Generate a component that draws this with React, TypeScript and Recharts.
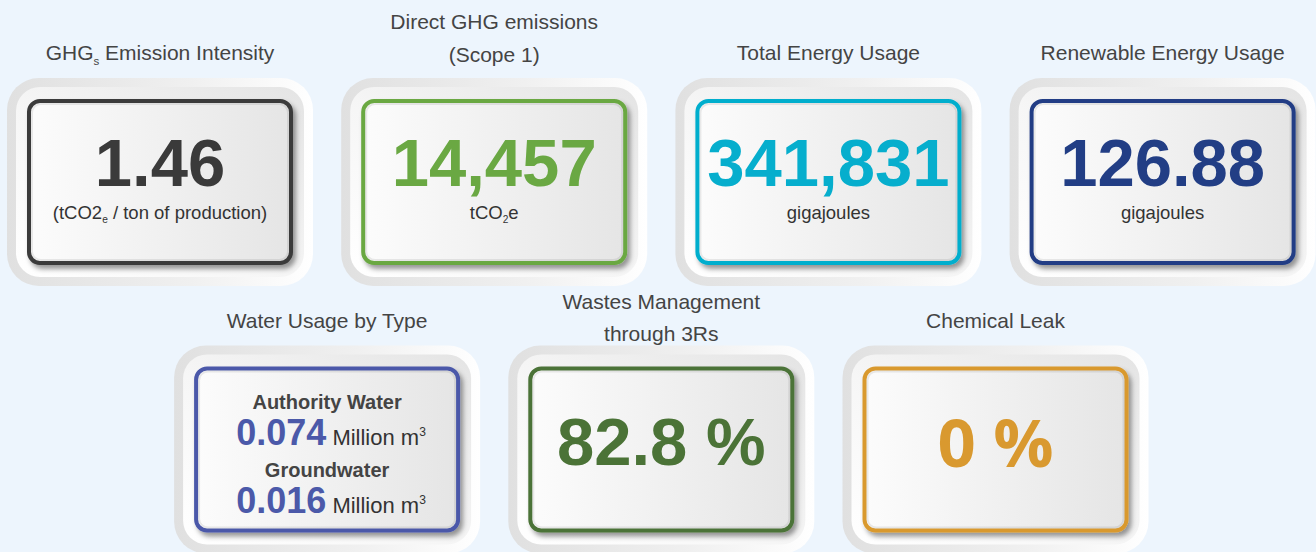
import React from 'react';
import { ScatterChart, Scatter, XAxis, YAxis } from 'recharts';

// card contents
const cardTitles = [
  'GHG_s Emission Intensity',
  'Direct GHG emissions\n(Scope 1)',
  'Total Energy Usage',
  'Renewable Energy Usage',
  'Water Usage by Type',
  'Wastes Management\nthrough 3Rs',
  'Chemical Leak',
];
const cardValues: (number | null)[] = [1.46, 14457, 341831, 126.88, null, 82.8, 0];
const cardDecimals = [2, 0, 0, 2, 0, 1, 0];
const cardUnits = ['(tCO2_e / ton of production)', 'tCO_2e', 'gigajoules', 'gigajoules', 'Million m^3', '%', '%'];

const waterTypes = ['Authority Water', 'Groundwater'];
const waterValues = [0.074, 0.016];

const cardColors = ['#3a3a3a', '#6aa843', '#06aecd', '#223e85', '#4b59a9', '#4b7337', '#d9992f'];

const FONT = "'Liberation Sans', Arial, Helvetica, sans-serif";
const W = 1316;
const H = 552;

// 4 cards on the first row, 3 on the second shifted by half a slot
const cards = cardTitles.map((title, i) => ({
  col: i < 4 ? i : i - 3.5,
  row: i < 4 ? 0 : 1,
  idx: i,
}));

// "_x" -> subscript, "^x" -> superscript
function rich(s: string, size: number) {
  const parts = s.split(/([_^][^ ])/);
  let shift = 0;
  const out: React.ReactNode[] = [];
  parts.forEach((p, i) => {
    if (!p) return;
    let target = 0;
    let text = p;
    let fs = size;
    if ((p[0] === '_' || p[0] === '^') && p.length === 2) {
      target = p[0] === '_' ? size * 0.22 : -size * 0.38;
      text = p[1];
      fs = size * 0.55;
    }
    out.push(
      <tspan key={i} dy={target - shift} fontSize={fs}>
        {text}
      </tspan>
    );
    shift = target;
  });
  return out;
}

const fmt = (v: number, d: number) =>
  v.toLocaleString('en-US', { minimumFractionDigits: d, maximumFractionDigits: d });

function KpiCard(props: any) {
  const { cx, cy, payload } = props;
  if (cx == null || cy == null) return null;
  const i: number = payload.idx;
  const row: number = payload.row;
  const color = cardColors[i];
  const title = cardTitles[i];
  const unit = cardUnits[i];
  const value = cardValues[i];
  const lines = title.split('\n');
  const top = cy - 83;
  const titleBase = lines.length === 1 ? [-39] : row === 0 ? [-70, -37] : [-58, -26];

  let body: React.ReactNode;
  if (value == null) {
    body = waterTypes.map((t, k) => (
      <g key={k}>
        <text x={cx} y={cy - 41 + k * 68} textAnchor="middle" fontFamily={FONT} fontWeight={700} fontSize={20} fill="#444">
          {t}
        </text>
        <text x={cx + 4} y={cy - 5 + k * 68} textAnchor="middle" fontFamily={FONT}>
          <tspan fontWeight={700} fontSize={36} fill={color}>
            {fmt(waterValues[k], 3)}
          </tspan>
          <tspan dx={6} fontSize={22} fill="#333">
            {rich(unit, 22)}
          </tspan>
        </text>
      </g>
    ));
  } else if (unit === '%') {
    const open = value === 0;
    body = (
      <text
        x={cx}
        y={cy + (open ? 17 : 15)}
        textAnchor="middle"
        fontFamily={open ? "'Open Sans', sans-serif" : FONT}
        fontWeight={700}
        fontSize={open ? 67 : 67}
        fill={color}
      >
        {fmt(value, cardDecimals[i])} %
      </text>
    );
  } else {
    body = (
      <g>
        <text x={cx} y={cy + 4} textAnchor="middle" fontFamily={FONT} fontWeight={700} fontSize={67} fill={color}>
          {fmt(value, cardDecimals[i])}
        </text>
        <text x={cx} y={cy + 37} textAnchor="middle" fontFamily={FONT} fontSize={18.5} fill="#333">
          {rich(unit, 18.5)}
        </text>
      </g>
    );
  }

  return (
    <g>
      <defs>
        <linearGradient id={`ring${i}`} x1="0" y1="0" x2="1" y2="0">
          <stop offset="0" stopColor="#e0e0e0" />
          <stop offset="0.6" stopColor="#f0f0f0" />
          <stop offset="1" stopColor="#ffffff" />
        </linearGradient>
        <linearGradient id={`bevel${i}`} x1="0" y1="1" x2="1" y2="0">
          <stop offset="0" stopColor="#ffffff" />
          <stop offset="0.45" stopColor="#f6f6f6" />
          <stop offset="1" stopColor="#e4e4e4" />
        </linearGradient>
        <linearGradient id={`face${i}`} x1="0" y1="0" x2="1" y2="0">
          <stop offset="0" stopColor="#fcfcfc" />
          <stop offset="1" stopColor="#e5e5e5" />
        </linearGradient>
        <filter id={`shadow${i}`} x="-10%" y="-10%" width="125%" height="130%">
          <feDropShadow dx="3" dy="4" stdDeviation="2.5" floodColor="#000" floodOpacity="0.4" />
        </filter>
      </defs>
      {lines.map((ln, k) => (
        <text key={k} x={cx} y={top + titleBase[k]} textAnchor="middle" fontFamily={FONT} fontSize={21} fill="#444">
          {rich(ln, 21)}
        </text>
      ))}
      <rect x={cx - 153} y={cy - 104} width={306} height={208} rx={32} fill={`url(#ring${i})`} />
      <rect x={cx - 144} y={cy - 95} width={288} height={190} rx={24} fill={`url(#bevel${i})`} />
      <rect
        x={cx - 131}
        y={cy - 81}
        width={262}
        height={162}
        rx={11}
        fill={`url(#face${i})`}
        stroke={color}
        strokeWidth={4}
        filter={`url(#shadow${i})`}
      />
      <rect x={cx - 128} y={cy - 78} width={256} height={156} rx={9} fill="none" stroke="#000" strokeOpacity={0.08} strokeWidth={2} />
      {body}
    </g>
  );
}

export default function App() {
  return (
    <div style={{ position: 'absolute', left: 0, top: 0, width: W, height: H, background: '#edf5fd', overflow: 'hidden' }}>
      <ScatterChart width={W} height={H} margin={{ top: 0, right: 0, bottom: 0, left: 0 }}>
        <XAxis type="number" dataKey="col" domain={[-160 / 334.2, (W - 160) / 334.2]} allowDataOverflow hide />
        <YAxis type="number" dataKey="row" domain={[-182 / 267.5, (H - 182) / 267.5]} allowDataOverflow reversed hide />
        <Scatter data={cards} isAnimationActive={false} shape={(p: any) => <KpiCard {...p} />} />
      </ScatterChart>
    </div>
  );
}
